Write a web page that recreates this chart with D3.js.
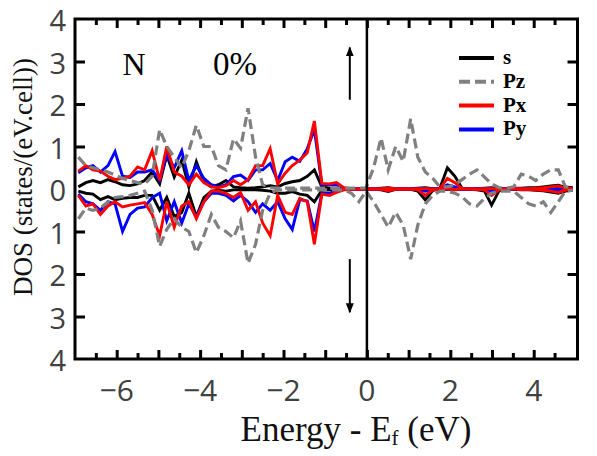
<!DOCTYPE html>
<html>
<head>
<meta charset="utf-8">
<script src="https://cdn.jsdelivr.net/npm/d3@7"></script>
<style>
  body { margin: 0; background: #fff; }
</style>
</head>
<body>
<div id="dos_viz"></div>
<script>
var width = 597;
var height = 456;

// energy grid (eV)
var energy = [-6.92,-6.74,-6.57,-6.39,-6.21,-6.04,-5.86,-5.68,-5.50,-5.33,
  -5.15,-4.97,-4.80,-4.62,-4.44,-4.27,-4.09,-3.91,-3.73,-3.56,
  -3.38,-3.20,-3.03,-2.85,-2.67,-2.50,-2.32,-2.14,-1.96,-1.79,
  -1.61,-1.43,-1.26,-1.08,-0.90,-0.73,-0.55,-0.37,-0.19,-0.02,
  0.16,0.34,0.51,0.69,0.87,1.05,1.22,1.40,1.58,1.75,
  1.93,2.11,2.28,2.46,2.64,2.82,2.99,3.17,3.35,3.52,
  3.70,3.88,4.05,4.23,4.41,4.59,4.76,4.94];

// spin up / spin down DOS
var sUp = [0.05,0.15,0.2,0.15,0.22,0.17,0.1,0.08,0.12,0.2,
  0.4,0.12,0.8,0.28,0.68,0.05,0.64,0.17,0.05,0.1,
  0.2,0.05,0.03,0.02,0.03,0.05,0.08,0.05,0.13,0.17,
  0.2,0.3,0.45,0.05,0.02,0.02,0.01,0,0,0,
  0.01,0.02,0.03,0.01,0,0.01,0.02,0.03,0.01,0.02,
  0.5,0.3,0.02,0.01,0.01,0.02,0.03,0.01,0.01,0.02,
  0.02,0.03,0.03,0.05,0.07,0.09,0.04,0.03];
var sDn = [-0.05,-0.1,-0.12,-0.25,-0.18,-0.25,-0.22,-0.2,-0.2,-0.15,
  -0.15,-0.5,-0.2,-0.65,-0.55,-0.1,-0.65,-0.2,-0.05,-0.03,
  -0.05,-0.02,-0.02,-0.02,-0.02,-0.03,-0.05,-0.1,-0.1,-0.06,
  -0.12,-0.15,-0.3,-0.03,-0.02,-0.01,-0.01,0,0,0,
  -0.01,-0.02,-0.06,-0.01,0,-0.01,-0.05,-0.26,-0.03,-0.01,
  -0.01,-0.02,-0.01,-0.01,-0.02,-0.05,-0.38,-0.04,-0.01,-0.01,
  -0.02,-0.02,-0.03,-0.04,-0.07,-0.1,-0.05,-0.03];
var pzUp = [0.75,0.55,0.5,0.45,0.4,0.33,0.25,0.2,0.15,0.12,
  0.3,1.4,1.0,0.75,0.5,0.9,1.5,1.0,1.0,0.55,
  0.45,1.18,0.96,1.9,0.75,0.1,0.03,0.02,0.02,0.02,
  0.02,0.02,0.02,0.02,0.02,0.02,0.02,0.02,0.02,0.03,
  0.5,1.2,0.45,1.0,0.65,1.65,0.75,0.4,0.25,0.05,
  0.05,0.1,0.22,0.35,0.45,0.28,0.12,0.03,0.02,0.05,
  0.35,0.3,0.2,0.35,0.45,0.45,0.05,0.03];
var pzDn = [-0.7,-0.45,-0.5,-0.45,-0.3,-0.2,-0.18,-0.15,-0.1,-0.05,
  -0.5,-1.35,-0.95,-0.7,-0.9,-1.0,-1.5,-1.1,-0.6,-0.9,
  -1.0,-1.15,-0.75,-1.75,-1.3,-0.5,-0.1,-0.02,-0.02,-0.02,
  -0.02,-0.02,-0.02,-0.02,-0.02,-0.02,-0.02,-0.1,-0.3,-0.05,
  -0.3,-0.6,-0.9,-0.55,-0.85,-1.65,-0.85,-0.35,-0.15,-0.05,
  -0.05,-0.1,-0.18,-0.35,-0.4,-0.22,-0.1,-0.05,-0.05,-0.05,
  -0.2,-0.35,-0.4,-0.3,-0.55,-0.3,-0.05,-0.03];
var pxUp = [0.42,0.55,0.45,0.42,0.3,0.22,0.25,0.3,0.52,0.45,
  0.9,0.2,1.0,0.4,0.3,0.1,0.35,0.15,0.05,0.03,
  0.08,0.2,0.1,0.22,0.55,0.55,0.95,0.12,0.37,0.55,
  0.68,0.85,1.6,0.13,0.12,0.15,0.03,0.01,0,0,
  0,0.01,0.02,0.01,0,0,0.01,0.01,0,0.01,
  0.25,0.15,0.01,0,0,0.01,0.01,0,0,0.01,
  0.01,0.01,0.02,0.03,0.05,0.07,0.02,0.01];
var pxDn = [-0.15,-0.4,-0.35,-0.6,-0.4,-0.3,-0.42,-0.38,-0.35,-0.32,
  -0.6,-1.1,-0.3,-0.9,-0.4,-0.3,-0.7,-0.3,-0.05,-0.05,
  -0.1,-0.2,-0.08,-0.5,-0.3,-0.8,-1.1,-0.15,-0.55,-0.6,
  -0.22,-0.3,-1.3,-0.12,-0.15,-0.08,-0.02,-0.01,0,0,
  0,-0.01,-0.04,-0.01,0,0,-0.02,-0.15,-0.02,0,
  0,-0.01,0,0,-0.01,-0.02,-0.15,-0.02,0,0,
  -0.01,-0.01,-0.02,-0.03,-0.05,-0.08,-0.03,-0.01];
var pyUp = [0.38,0.5,0.55,0.4,0.55,0.88,0.3,0.27,0.4,0.4,
  0.45,0.2,0.8,0.5,0.9,0.2,0.55,0.25,0.1,0.05,
  0.1,0.29,0.33,0.2,0.45,0.45,0.6,0.2,0.64,0.75,
  0.65,0.95,1.4,0.1,0.1,0.1,0.02,0.01,0,0,
  0,0,0.01,0,0,0,0,0.01,0,0,
  0.1,0.05,0,0,0,0,0.01,0,0,0,
  0,0,0.01,0.01,0.02,0.03,0.01,0];
var pyDn = [-0.12,-0.3,-0.35,-0.5,-0.3,-0.35,-1.0,-0.6,-0.45,-0.42,
  -0.2,-0.1,-0.75,-0.3,-0.8,-0.35,-0.65,-0.3,-0.1,-0.1,
  -0.15,-0.28,-0.15,-0.3,-0.55,-0.35,-0.5,-0.3,-0.7,-0.95,
  -0.25,-0.28,-1.0,-0.1,-0.1,-0.05,-0.01,0,0,0,
  0,0,-0.01,0,0,0,0,-0.05,0,0,
  0,0,0,0,0,0,-0.05,0,0,0,
  0,0,0,0,-0.01,-0.03,0,0];

var yTicks = [-4,-3,-2,-1,0,1,2,3,4];
var xTicks = [-6,-4,-2,0,2,4];
var legendNames = ['s','Pz','Px','Py'];
var legendColors = ['#000000','#808080','#ff0000','#0000ff'];

var svg = d3.select('#dos_viz').append('svg')
  .attr('width', width)
  .attr('height', height);

//scalers
var x = d3.scaleLinear().domain([-7, 5.05]).range([75, 577.5]);
var y = d3.scaleLinear().domain([-4, 4]).range([359, 19]);

// curves
var line = d3.line()
  .x(function(d){ return x(d[0]); })
  .y(function(d){ return y(d[1]); });

function pairs(vals){ return energy.map(function(e, i){ return [e, vals[i]]; }); }

var series = [
  {v: sUp, c: '#000000', dash: null, w: 2.9},
  {v: sDn, c: '#000000', dash: null, w: 2.9},
  {v: pyUp, c: '#0000ff', dash: null, w: 2.9},
  {v: pyDn, c: '#0000ff', dash: null, w: 2.9},
  {v: pxUp, c: '#ff0000', dash: null, w: 2.9},
  {v: pxDn, c: '#ff0000', dash: null, w: 2.9},
  {v: pzUp, c: '#808080', dash: '10,5', w: 3.2},
  {v: pzDn, c: '#808080', dash: '10,5', w: 3.2}
];

svg.append('g').selectAll('path')
  .data(series)
  .enter()
  .append('path')
  .attr('d', function(d){ return line(pairs(d.v)); })
  .attr('fill', 'none')
  .attr('stroke', function(d){ return d.c; })
  .attr('stroke-width', function(d){ return d.w; })
  .attr('stroke-dasharray', function(d){ return d.dash; })
  .attr('stroke-linejoin', 'miter');

// Fermi level
svg.append('line')
  .attr('x1', x(0)).attr('x2', x(0))
  .attr('y1', y(4)).attr('y2', y(-4))
  .attr('stroke', '#000').attr('stroke-width', 2.5);

// x axis ticks (bottom + top, inward)
var minor = d3.range(-6.5, 5, 0.5).filter(function(t){ return t % 1 !== 0; });
var major = d3.range(-6, 5, 1);

function xTickAxis(gen, vals, size, yPos){
  svg.append('g')
    .attr('transform', 'translate(0,' + yPos + ')')
    .call(gen(x).tickValues(vals).tickSize(size).tickFormat(''))
    .call(function(g){ g.select('.domain').remove(); })
    .selectAll('line').attr('stroke', '#000').attr('stroke-width', 3);
}
xTickAxis(d3.axisBottom, minor, -6, y(-4));
xTickAxis(d3.axisBottom, major, -9, y(-4));
xTickAxis(d3.axisTop, minor, -6, y(4));
xTickAxis(d3.axisTop, major, -9, y(4));

// y ticks (left + right, inward)
function yTickAxis(gen, xPos){
  svg.append('g')
    .attr('transform', 'translate(' + xPos + ',0)')
    .call(gen(y).tickValues([-3,-2,-1,1,2,3]).tickSize(-10).tickFormat(''))
    .call(function(g){ g.select('.domain').remove(); })
    .selectAll('line').attr('stroke', '#000').attr('stroke-width', 3);
}
yTickAxis(d3.axisLeft, x(-7));
yTickAxis(d3.axisRight, x(5.05));

// tick labels
svg.append('g').selectAll('text')
  .data(xTicks)
  .enter()
  .append('text')
  .attr('x', function(d){ return x(d); })
  .attr('y', 401)
  .attr('text-anchor', 'middle')
  .attr('font-family', 'Open Sans')
  .attr('font-size', 30)
  .attr('fill', '#404040')
  .text(function(d){ return d < 0 ? '\u2212' + Math.abs(d) : d; });

svg.append('g').selectAll('text')
  .data(yTicks)
  .enter()
  .append('text')
  .attr('x', 66)
  .attr('y', function(d){ return y(d) + 12; })
  .attr('text-anchor', 'end')
  .attr('font-family', 'Open Sans')
  .attr('font-size', 29)
  .attr('fill', '#404040')
  .text(function(d){ return Math.abs(d); });

// frame
svg.append('rect')
  .attr('x', x(-7)).attr('y', y(4))
  .attr('width', x(5.05) - x(-7)).attr('height', y(-4) - y(4))
  .attr('fill', 'none').attr('stroke', '#000').attr('stroke-width', 3);

// axis titles
svg.append('text')
  .attr('transform', 'translate(32,177) rotate(-90)')
  .attr('text-anchor', 'middle')
  .attr('font-family', 'Liberation Serif')
  .attr('font-size', 27)
  .attr('fill', '#111')
  .text('DOS (states/(eV.cell))');

var xt = svg.append('text')
  .attr('x', 356).attr('y', 441)
  .attr('text-anchor', 'middle')
  .attr('font-family', 'Liberation Serif')
  .attr('font-size', 35)
  .attr('fill', '#111');
xt.append('tspan').text('Energy - E');
xt.append('tspan').attr('font-size', 21).attr('dy', 4).text('f');
xt.append('tspan').attr('dy', -4).text(' (eV)');

// labels inside
svg.append('text').attr('x', 134).attr('y', 75)
  .attr('text-anchor', 'middle').attr('font-family', 'Liberation Serif')
  .attr('font-size', 32).text('N');
svg.append('text').attr('x', 235).attr('y', 75)
  .attr('text-anchor', 'middle').attr('font-family', 'Liberation Serif')
  .attr('font-size', 33).text('0%');

// spin arrows
svg.append('defs').append('marker')
  .attr('id', 'arr').attr('viewBox', '0 0 10 10')
  .attr('refX', 9).attr('refY', 5)
  .attr('markerWidth', 5).attr('markerHeight', 5)
  .attr('markerUnits', 'strokeWidth')
  .attr('orient', 'auto')
  .append('path').attr('d', 'M0,1 L10,5 L0,9 z').attr('fill', '#000');

svg.append('line')
  .attr('x1', x(-0.41)).attr('x2', x(-0.41))
  .attr('y1', y(2.1)).attr('y2', y(3.33))
  .attr('stroke', '#000').attr('stroke-width', 2)
  .attr('marker-end', 'url(#arr)');
svg.append('line')
  .attr('x1', x(-0.41)).attr('x2', x(-0.41))
  .attr('y1', y(-1.65)).attr('y2', y(-2.9))
  .attr('stroke', '#000').attr('stroke-width', 2)
  .attr('marker-end', 'url(#arr)');

// legend
var leg = svg.append('g').selectAll('g')
  .data(legendNames)
  .enter()
  .append('g')
  .attr('transform', function(d, i){ return 'translate(0,' + (58 + i * 23.8) + ')'; });
leg.append('line')
  .attr('x1', 459).attr('x2', 494)
  .attr('stroke', function(d, i){ return legendColors[i]; })
  .attr('stroke-width', 4)
  .attr('stroke-dasharray', function(d){ return d === 'Pz' ? '11,5' : null; });
leg.append('text')
  .attr('x', 503).attr('y', 6)
  .attr('font-family', 'Liberation Serif')
  .attr('font-weight', 'bold')
  .attr('font-size', 21)
  .text(function(d){ return d; });
</script>
</body>
</html>
